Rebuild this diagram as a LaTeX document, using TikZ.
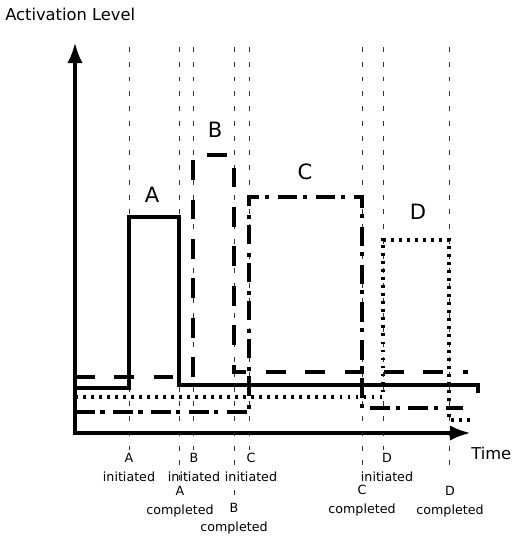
\documentclass[tikz,border=0pt]{standalone}
\usepackage{fontspec}
\setmainfont{DejaVu Sans}
\usetikzlibrary{arrows.meta}
\tikzstyle{axis}=[line width=3.2pt,line join=miter,{Latex[length=15pt,width=11pt]}-{Latex[length=15pt,width=11pt]}]
\tikzstyle{guide}=[line width=0.5pt,black!80,dash pattern=on 3.5pt off 7pt]
\tikzstyle{sig}=[line width=2.7pt,line join=miter]
\tikzstyle{sigB}=[sig,dash pattern=on 14pt off 14pt]
\tikzstyle{sigC}=[sig,dash pattern=on 14pt off 4pt on 3pt off 6pt]
\tikzstyle{sigD}=[sig,dash pattern=on 2pt off 3.7pt]
\tikzstyle{tick}=[font=\fontsize{9}{13.5}\selectfont,align=center,inner sep=0]
\tikzstyle{big}=[font=\fontsize{15}{18}\selectfont,inner sep=0]
\tikzstyle{axlabel}=[font=\fontsize{11.6}{13}\selectfont,anchor=west,inner sep=0]
\begin{document}
\begin{tikzpicture}[x=0.025cm,y=-0.025cm]
\useasboundingbox (0,0) rectangle (517,538);

% time marks
\foreach \x/\e in {129/450,179/480,193/450,234/495,249/450,362/480,383/450,449/470}{
	\draw[guide] (\x,47)--(\x,\e);}

% axes
\coordinate (O) at (75,433);
\coordinate (ytop) at (75,42);
\coordinate (xend) at (471,433);
\draw[axis] (ytop)--(O)--(xend);
\node[axlabel] (ylab) at (5,14) {Activation Level};
\node[axlabel] (xlab) at (471,453) {Time};

% signals
\draw[sig] (75,388)--(129,388)--(129,217)--(179,217)--(179,385)--(478,385)--(478,393);
\draw[sigB] (75,377)--(193,377)--(193,155)--(234,155)--(234,372)--(468,372);
\draw[sigC] (75,412)--(249,412)--(249,197)--(362,197)--(362,408)--(463,408);
\draw[sigD] (75,397)--(383,397)--(383,240)--(449,240)--(449,420)--(470,420);

\node[big] (lA) at (152,195) {A};
\node[big] (lB) at (215,130) {B};
\node[big] (lC) at (305,172) {C};
\node[big] (lD) at (418,212) {D};

% labels under the axis
\node[tick] (Ai) at (129,467) {A\\initiated};
\node[tick] (Bi) at (194,467) {B\\initiated};
\node[tick] (Ci) at (251,467) {C\\initiated};
\node[tick] (Di) at (387,467) {D\\initiated};
\node[tick] (Ac) at (180,502) {A\\completed};
\node[tick] (Bc) at (234,519) {B\\completed};
\node[tick] (Cc) at (362,501) {C\\completed};
\node[tick] (Dc) at (450,502) {D\\completed};
\end{tikzpicture}
\end{document}
